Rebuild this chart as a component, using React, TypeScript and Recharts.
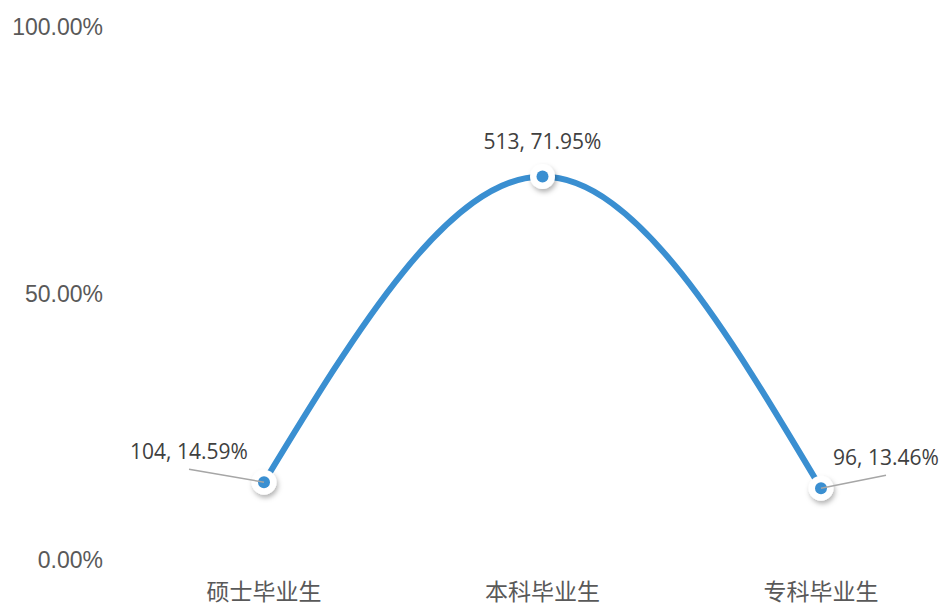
import React from "react";
import { LineChart, Line, XAxis, YAxis, LabelList } from "recharts";

const categories = ["硕士毕业生", "本科毕业生", "专科毕业生"];
const counts = [104, 513, 96];
const shares = [0.1459, 0.7195, 0.1346];
const yTicks = [0, 0.5, 1];

const data = categories.map((name, i) => ({ name, count: counts[i], share: shares[i] }));

// where each data label sits relative to its point, and whether it gets a leader line
const labelPlacement = [
  { dx: -75, dy: -31, leader: true },
  { dx: 0, dy: -36, leader: false },
  { dx: 65, dy: -31, leader: true },
];

const BLUE = "#3a8fd1";
const pct = (v: number) => `${(v * 100).toFixed(2)}%`;

function Dot(props: any) {
  const { cx, cy, index } = props;
  return (
    <g key={`dot-${index}`}>
      <circle cx={cx} cy={cy} r={12.5} fill="#fff" filter="url(#dotShadow)" />
      <circle cx={cx} cy={cy} r={6} fill={BLUE} />
    </g>
  );
}

function DataLabel(props: any) {
  const { x, y, index } = props;
  const p = labelPlacement[index];
  const text = `${counts[index]}, ${pct(shares[index])}`;
  return (
    <g>
      {p.leader && (
        <line x1={x + p.dx} y1={y + p.dy + 18} x2={x} y2={y} stroke="#a6a6a6" strokeWidth={1.5} />
      )}
      <text
        x={x + p.dx}
        y={y + p.dy}
        textAnchor="middle"
        dominantBaseline="central"
        fontFamily="'Open Sans', sans-serif"
        fontSize={21}
        fill="#404040"
      >
        {text}
      </text>
    </g>
  );
}

export default function App() {
  return (
    <div style={{ width: 943, height: 608, position: "absolute", left: 0, top: 0, background: "#fff" }}>
      <LineChart width={943} height={608} data={data} margin={{ top: 27, right: 0, bottom: 0, left: 0 }}>
        <defs>
          <filter id="dotShadow" x="-50%" y="-50%" width="200%" height="200%">
            <feDropShadow dx={1.5} dy={3} stdDeviation={2.5} floodColor="#000" floodOpacity={0.3} />
          </filter>
        </defs>
        <XAxis
          dataKey="name"
          axisLine={false}
          tickLine={false}
          tickSize={0}
          tickMargin={24}
          height={48}
          padding={{ left: 139, right: 122 }}
          tick={{ fontSize: 23, fill: "#595959", fontFamily: "'Noto Sans CJK SC', sans-serif" }}
        />
        <YAxis
          domain={[0, 1]}
          ticks={yTicks}
          tickFormatter={pct}
          axisLine={false}
          tickLine={false}
          tickSize={0}
          tickMargin={22}
          width={125}
          tick={{ fontSize: 23, fill: "#595959", fontFamily: "'Liberation Sans', Arial, sans-serif" }}
        />
        <Line
          type="monotone"
          dataKey="share"
          stroke={BLUE}
          strokeWidth={6}
          dot={<Dot />}
          activeDot={false}
          isAnimationActive={false}
        >
          <LabelList dataKey="share" content={<DataLabel />} />
        </Line>
      </LineChart>
    </div>
  );
}
